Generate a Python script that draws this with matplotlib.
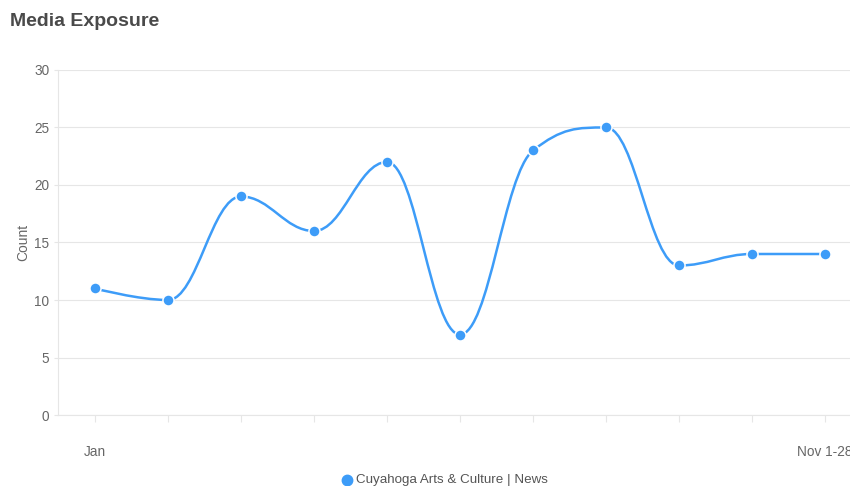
import numpy as np
import matplotlib.pyplot as plt
from matplotlib.path import Path
from matplotlib.patches import PathPatch
from matplotlib.lines import Line2D

plt.rcParams["font.family"] = ["Liberation Sans", "DejaVu Sans"]

categories = ["Jan", "", "", "", "", "", "", "", "", "", "Nov 1-28"]
counts = [11, 10, 19, 16, 22, 7, 23, 25, 13, 14, 14]
series_name = "Cuyahoga Arts & Culture | News"

blue = "#3d9cf8"
grid = "#e6e6e6"
label_gray = "#666666"


def spline_path(xs, ys, smoothing=1.5):
    # highcharts-like spline: bezier control points per point
    n = len(xs)
    denom = smoothing + 1
    left = [(xs[i], ys[i]) for i in range(n)]
    right = [(xs[i], ys[i]) for i in range(n)]
    for i in range(1, n - 1):
        px, py = xs[i], ys[i]
        lx, ly = xs[i - 1], ys[i - 1]
        nx, ny = xs[i + 1], ys[i + 1]
        lcx = (smoothing * px + lx) / denom
        lcy = (smoothing * py + ly) / denom
        rcx = (smoothing * px + nx) / denom
        rcy = (smoothing * py + ny) / denom
        corr = (rcy - lcy) * (rcx - px) / (rcx - lcx) + py - rcy
        lcy += corr
        rcy += corr
        if lcy > ly and lcy > py:
            lcy = max(ly, py)
            rcy = 2 * py - lcy
        elif lcy < ly and lcy < py:
            lcy = min(ly, py)
            rcy = 2 * py - lcy
        if rcy > ny and rcy > py:
            rcy = max(ny, py)
            lcy = 2 * py - rcy
        elif rcy < ny and rcy < py:
            rcy = min(ny, py)
            lcy = 2 * py - rcy
        left[i] = (lcx, lcy)
        right[i] = (rcx, rcy)
    verts = [(xs[0], ys[0])]
    codes = [Path.MOVETO]
    for i in range(1, n):
        verts += [right[i - 1], left[i], (xs[i], ys[i])]
        codes += [Path.CURVE4] * 3
    return Path(verts, codes)


fig = plt.figure(figsize=(8.5, 4.86), dpi=100)
ax = fig.add_axes([58.5 / 850, 71 / 486, 803 / 850, 345 / 486])

x = np.arange(len(counts))
ax.add_patch(PathPatch(spline_path(list(x), counts), facecolor="none",
                       edgecolor=blue, lw=1.8, capstyle="round", zorder=3))
ax.plot(x, counts, ls="none", marker="o", ms=8, mfc=blue, mec="white",
        mew=1.1, zorder=4)

ax.set_xlim(-0.5, len(counts) - 0.5)
ax.set_ylim(0, 30)
ax.set_yticks(range(0, 31, 5))
ax.yaxis.grid(True, color=grid, lw=0.8)
ax.set_axisbelow(True)
ax.set_xticks(x)
ax.set_xticklabels([])
ax.tick_params(axis="x", length=5, width=0.8, color=grid, pad=0)
ax.tick_params(axis="y", length=3, width=0.8, color=grid, pad=3.5,
               labelsize=9.8, labelcolor=label_gray)
for s in ["top", "right"]:
    ax.spines[s].set_visible(False)
ax.spines["bottom"].set_color(grid)
ax.spines["left"].set_color(grid)
ax.spines["bottom"].set_linewidth(0.8)
ax.spines["left"].set_linewidth(0.8)

# only first and last category labels are shown; last one runs off the edge
for i, lab in enumerate(categories):
    if lab:
        ax.text(i, -3.2, lab, ha="center", va="center", fontsize=9.8,
                color=label_gray, clip_on=False)

ax.set_ylabel("Count", fontsize=10, color=label_gray)
ax.yaxis.set_label_coords((30 - 58.5) / 803, 0.5)

fig.text(10 / 850, 1 - 22 / 486, "Media Exposure", fontsize=14,
         fontweight="bold", color="#4a4a4a", va="center", ha="left")

# legend drawn by hand
fig.add_artist(Line2D([347 / 850], [1 - 480 / 486], ls="none", marker="o",
                      ms=7.5, mfc=blue, mec=blue, transform=fig.transFigure))
fig.text(356 / 850, 1 - 480 / 486, series_name, fontsize=9.6,
         color="#555555", va="center", ha="left")

fig.savefig("out.png", dpi=100)
